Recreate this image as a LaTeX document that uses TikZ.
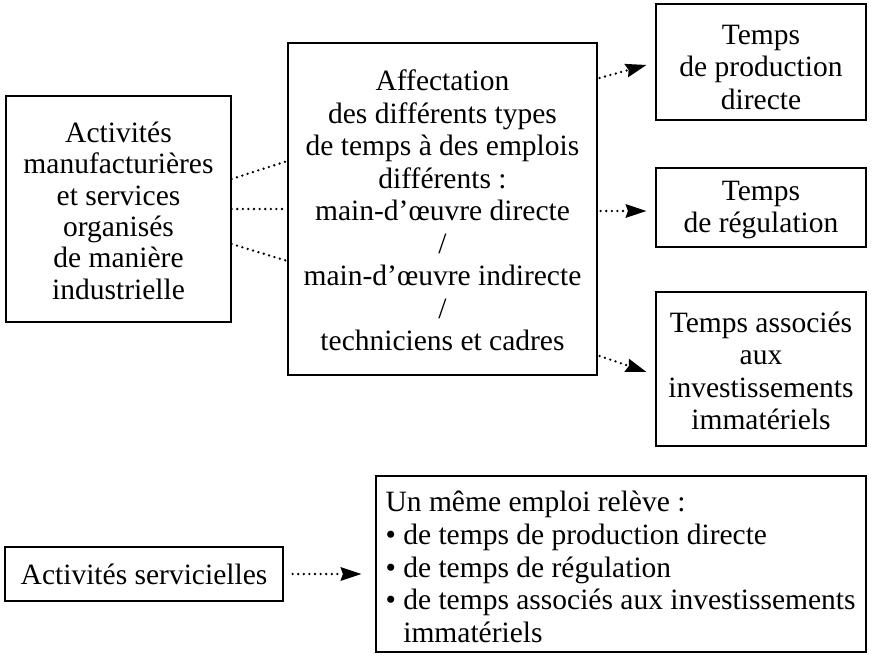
\documentclass[tikz,border=0pt]{standalone}
\usepackage{fontspec}
\setmainfont{Liberation Serif}
\usetikzlibrary{arrows.meta}
\begin{document}
\begin{tikzpicture}[x=1pt,y=-1pt,
  box/.style={draw, line width=1.2pt, inner sep=0pt, align=center, font=\fontsize{29.5}{32.5}\selectfont},
  txt/.style={inner sep=0pt, align=left, font=\fontsize{29.5}{32.8}\selectfont},
  dots/.style={line width=2.6pt, dash pattern=on 0pt off 5.6pt, line cap=round},
  arr/.style={dots, -{Stealth[length=21pt,width=14pt,inset=2.5pt,line width=0pt]}}]
\useasboundingbox (0,0) rectangle (874,671);
\node[box, minimum width=225pt, minimum height=226pt, font=\fontsize{29.5}{31.4}\selectfont] (L) at (118.5,209)
  {\rule{0pt}{24pt}Activités\\manufacturières\\et services\\organisés\\de manière\\industrielle};
\node[box, minimum width=309pt, minimum height=332pt] (M) at (442.5,209)
  {\rule{0pt}{24pt}Affectation\\des différents types\\de temps à des emplois\\différents :\\main-d’œuvre directe\\/\\main-d’œuvre indirecte\\/\\techniciens et cadres};
\node[box, minimum width=210pt, minimum height=116pt] (R1) at (761,62)
  {\rule{0pt}{30pt}Temps\\de production\\directe};
\node[box, minimum width=210pt, minimum height=79pt] (R2) at (761,207.5)
  {\rule{0pt}{24pt}Temps\\de régulation};
\node[box, minimum width=210pt, minimum height=154pt] (R3) at (761,369)
  {\rule{0pt}{24pt}Temps associés\\aux\\investissements\\immatériels};
\node[box, minimum width=278pt, minimum height=54pt] (BL) at (144,574)
  {Activités servicielles};
\node[box, minimum width=490pt, minimum height=176pt] (BR) at (621,564) {};
\node[txt, anchor=west] (BRt) at ([xshift=10pt,yshift=-3pt]BR.west)
  {Un même emploi relève :\\• de temps de production directe\\• de temps de régulation\\• de temps associés aux investissements\\\hphantom{•}\ immatériels};
\draw[dots] ([yshift=30pt]L.east) -- ([yshift=48pt]M.west);
\draw[dots] (L.east) -- (M.west);
\draw[dots] ([yshift=-35pt]L.east) -- ([yshift=-52pt]M.west);
\draw[arr] ([xshift=2pt,yshift=131pt]M.east) -- ([xshift=-9pt,yshift=-3pt]R1.west);
\draw[arr] ([xshift=3pt,yshift=-2pt]M.east) -- ([xshift=-9pt,yshift=-3.5pt]R2.west);
\draw[arr] ([xshift=2pt,yshift=-147pt]M.east) -- ([xshift=-9pt,yshift=-3pt]R3.west);
\draw[arr] ([xshift=9pt]BL.east) -- ([xshift=-14pt,yshift=-10pt]BR.west);
\end{tikzpicture}
\end{document}
